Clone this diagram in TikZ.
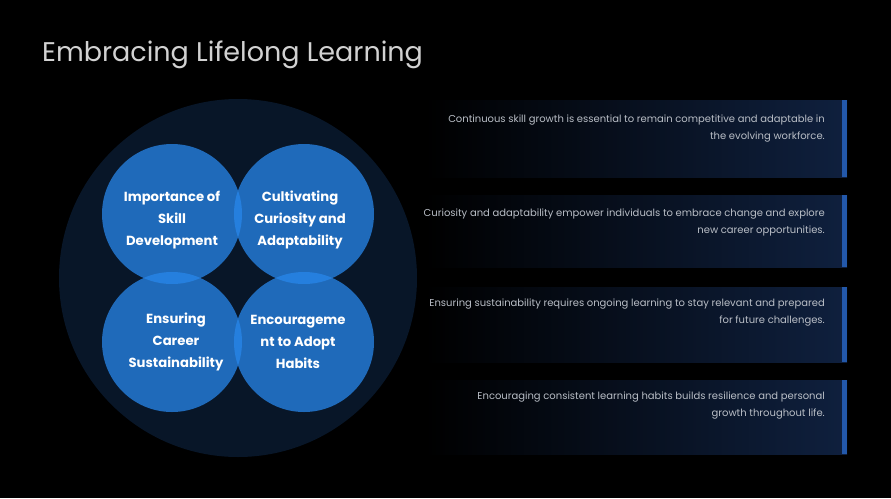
\documentclass[tikz,border=0pt]{standalone}
\usepackage{fontspec}
\setmainfont{Poppins}
\definecolor{bgnavy}{RGB}{8,22,40}
\definecolor{cblue}{RGB}{40,135,235}
\definecolor{cardnavy}{RGB}{15,32,62}
\definecolor{barblue}{RGB}{35,88,170}
\definecolor{titlegray}{RGB}{210,210,210}
\definecolor{txtgray}{RGB}{185,190,198}
\begin{document}
\begin{tikzpicture}[x=1pt,y=-1pt,
  petal/.style={circle,minimum size=140pt,inner sep=0pt,fill=cblue,fill opacity=0.75,text opacity=1},
  petaltext/.style={text=white,font=\fontsize{13.2}{22}\selectfont\bfseries,align=center},
  card/.style={left color=black,right color=cardnavy,draw=none},
  cardbar/.style={fill=barblue,draw=none},
  cardtext/.style={text=txtgray,font=\fontsize{10}{17}\selectfont,align=right,anchor=east,inner sep=0pt}]
\fill[black] (0,0) rectangle (891,498);
\useasboundingbox (0,0) rectangle (891,498);
% title
\node[anchor=base west,inner sep=0pt,text=titlegray,font=\fontsize{27}{30}\selectfont] (title) at (42,61) {Embracing Lifelong Learning};
% big circle
\node[circle,minimum size=358pt,inner sep=0pt,fill=bgnavy] (big) at (238,278) {};
% petals
\node[petal] (p1) at (172,214) {};
\node[petal] (p2) at (304,214) {};
\node[petal] (p3) at (172,342) {};
\node[petal] (p4) at (304,342) {};
\node[petaltext] (t1) at (172,220) {Importance of\\Skill\\Development};
\node[petaltext] (t2) at (300,220) {Cultivating\\Curiosity and\\Adaptability};
\node[petaltext] (t3) at (176,342) {Ensuring\\Career\\Sustainability};
\node[petaltext] (t4) at (298,342) {Encourageme\\nt to Adopt\\Habits};
% cards
\path[card] (425,100) rectangle (847,177);
\path[cardbar] (842,100) rectangle (847,177);
\node[cardtext] (c1) at (825,128.5) {Continuous skill growth is essential to remain competitive and adaptable in\\the evolving workforce.};
\path[card] (425,195) rectangle (847,267);
\path[cardbar] (842,195) rectangle (847,267);
\node[cardtext] (c2) at (825,222) {Curiosity and adaptability empower individuals to embrace change and explore\\new career opportunities.};
\path[card] (425,287) rectangle (847,362);
\path[cardbar] (842,287) rectangle (847,362);
\node[cardtext] (c3) at (825,313) {Ensuring sustainability requires ongoing learning to stay relevant and prepared\\for future challenges.};
\path[card] (425,380) rectangle (847,454);
\path[cardbar] (842,380) rectangle (847,454);
\node[cardtext] (c4) at (825,406) {Encouraging consistent learning habits builds resilience and personal\\growth throughout life.};
\end{tikzpicture}
\end{document}
